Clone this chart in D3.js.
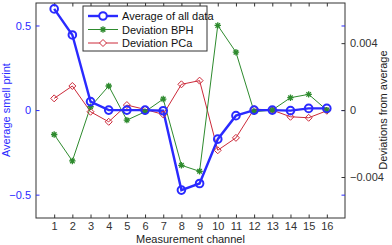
<!DOCTYPE html>
<html>
<head>
<meta charset="utf-8">
<script src="https://cdn.jsdelivr.net/npm/d3@7"></script>
<style>
  body { margin: 0; background: #fff; }
  svg { font-family: "Liberation Sans", Arial, sans-serif; }
</style>
</head>
<body>
<div id="chart"></div>
<script>
// data
var channels = [1,2,3,4,5,6,7,8,9,10,11,12,13,14,15,16];
var average = [0.598, 0.444, 0.05, 0.0, 0.0, 0.0, -0.004, -0.473, -0.434, -0.172, -0.033, 0.0, 0.0, -0.003, 0.01, 0.01];
var devBPH = [-0.00146, -0.00304, 0.0002, 0.00144, -0.0006, -0.0001, 0.00066, -0.0033, -0.00366, 0.00506, 0.00346, -0.0001, 0, 0.00074, 0.00094, 0];
var devPCa = [0.0007, 0.00144, -0.0001, -0.0007, 0.0003, 0.00004, -0.00026, 0.00154, 0.00176, -0.0024, -0.00166, 0.00006, 0, -0.0004, -0.00046, -0.00004];
var leftTicks = [-0.5, 0, 0.5];
var rightTicks = [-0.004, 0, 0.004];
var legendNames = ["Average of all data", "Deviation BPH", "Deviation PCa"];

var blue = "#2a2aff", green = "#2e8b2e", red = "#cc2a3a";

// 1: dimensions
var W = 392, H = 245;
var margin = {top: 3, right: 47, bottom: 27, left: 36};
var width = W - margin.left - margin.right,
    height = H - margin.top - margin.bottom;

var svg = d3.select("#chart").append("svg")
    .attr("width", W)
    .attr("height", H);
var g = svg.append("g")
    .attr("transform", "translate(" + margin.left + "," + margin.top + ")");

// 2: scales
var x = d3.scaleLinear().domain([0, 17]).range([0, width]);
var yL = d3.scaleLinear().domain([-0.638, 0.633]).range([height, 0]);
var yR = d3.scaleLinear().domain([-0.00645, 0.0064]).range([height, 0]);

// box
g.append("rect").attr("width", width).attr("height", height)
  .attr("fill", "none").attr("stroke", "#333").attr("stroke-width", 1);

// axes
var tl = 3.5;
var xAxis = d3.axisBottom(x).tickValues(channels).tickSize(-tl).tickPadding(4).tickFormat(d3.format("d"));
var xTop = d3.axisTop(x).tickValues(channels).tickSize(-tl).tickFormat("");
var lAxis = d3.axisLeft(yL).tickValues(leftTicks).tickSize(-tl).tickPadding(5).tickFormat(function(d){ return d === 0 ? "0" : d3.format(".1f")(d); });
var lOnRight = d3.axisRight(yL).tickValues(leftTicks).tickSize(-tl).tickFormat("");
var rAxis = d3.axisRight(yR).tickValues(rightTicks).tickSize(-tl).tickPadding(5).tickFormat(function(d){ return d === 0 ? "0" : d3.format(".3f")(d); });

function style(sel, col, fs) {
  sel.select(".domain").remove();
  sel.selectAll("line").attr("stroke", col);
  sel.selectAll("text").attr("fill", col).style("font-size", fs + "px");
}

g.append("g").attr("transform", "translate(0," + height + ")").call(xAxis).call(style, "#333", 11);
g.append("g").call(xTop).call(style, "#333", 11);
g.append("g").call(lAxis).call(style, blue, 11);
g.append("g").attr("transform", "translate(" + width + ",0)").call(lOnRight).call(style, blue, 11);
g.append("g").attr("transform", "translate(" + width + ",0)").call(rAxis).call(style, "#333", 11);

// axis labels
svg.append("text").attr("transform", "translate(10," + (margin.top + yL(0)) + ") rotate(-90)")
  .attr("text-anchor", "middle").attr("fill", blue).style("font-size", "11px").text("Average smell print");
svg.append("text").attr("transform", "translate(387," + (margin.top + yR(0)) + ") rotate(-90)")
  .attr("text-anchor", "middle").attr("fill", "#222").style("font-size", "11px").text("Deviations from average");
svg.append("text").attr("x", margin.left + x(8.5)).attr("y", 243)
  .attr("text-anchor", "middle").attr("fill", "#222").style("font-size", "11px").text("Measurement channel");

// lines
var lineL = d3.line().x(function(d, i){ return x(channels[i]); }).y(function(d){ return yL(d); });
var lineR = d3.line().x(function(d, i){ return x(channels[i]); }).y(function(d){ return yR(d); });

g.append("path").datum(devPCa).attr("d", lineR).attr("fill", "none").attr("stroke", red).attr("stroke-width", 1);
g.append("path").datum(devBPH).attr("d", lineR).attr("fill", "none").attr("stroke", green).attr("stroke-width", 1);
g.append("path").datum(average).attr("d", lineL).attr("fill", "none").attr("stroke", blue).attr("stroke-width", 2.4);

// markers
function starPath(cx, cy, r) {
  var p = "";
  for (var k = 0; k < 4; k++) {
    var a = k * Math.PI / 4;
    var dx = r * Math.cos(a), dy = r * Math.sin(a);
    p += "M" + (cx - dx) + "," + (cy - dy) + "L" + (cx + dx) + "," + (cy + dy);
  }
  return p;
}
function diamondPath(cx, cy, r) {
  return "M" + cx + "," + (cy - r) + "L" + (cx + r) + "," + cy + "L" + cx + "," + (cy + r) + "L" + (cx - r) + "," + cy + "Z";
}

g.selectAll(".pca").data(devPCa).enter().append("path")
  .attr("d", function(d, i){ return diamondPath(x(channels[i]), yR(d), 3.5); })
  .attr("fill", "none").attr("stroke", red).attr("stroke-width", 1);
g.selectAll(".bph").data(devBPH).enter().append("path")
  .attr("d", function(d, i){ return starPath(x(channels[i]), yR(d), 3.2); })
  .attr("fill", "none").attr("stroke", green).attr("stroke-width", 1.3);
g.selectAll(".avg").data(average).enter().append("circle")
  .attr("cx", function(d, i){ return x(channels[i]); })
  .attr("cy", function(d){ return yL(d); })
  .attr("r", 3.8).attr("fill", "none").attr("stroke", blue).attr("stroke-width", 2);

// legend
var lg = svg.append("g").attr("transform", "translate(83,6)");
lg.append("rect").attr("width", 124).attr("height", 45)
  .attr("fill", "#fff").attr("stroke", "#333").attr("stroke-width", 1);
var cols = [blue, green, red];
legendNames.forEach(function(name, i) {
  var yy = 10 + i * 13.5;
  lg.append("line").attr("x1", 5).attr("x2", 35).attr("y1", yy).attr("y2", yy)
    .attr("stroke", cols[i]).attr("stroke-width", i === 0 ? 2.4 : 1);
  if (i === 0) lg.append("circle").attr("cx", 20).attr("cy", yy).attr("r", 3.8).attr("fill", "#fff").attr("stroke", blue).attr("stroke-width", 2);
  if (i === 1) lg.append("path").attr("d", starPath(20, yy, 3.2)).attr("stroke", green).attr("stroke-width", 1.3);
  if (i === 2) lg.append("path").attr("d", diamondPath(20, yy, 3.5)).attr("fill", "#fff").attr("stroke", red);
  lg.append("text").attr("x", 39).attr("y", yy + 4).attr("fill", "#111").style("font-size", "11px").text(name);
});
</script>
</body>
</html>
